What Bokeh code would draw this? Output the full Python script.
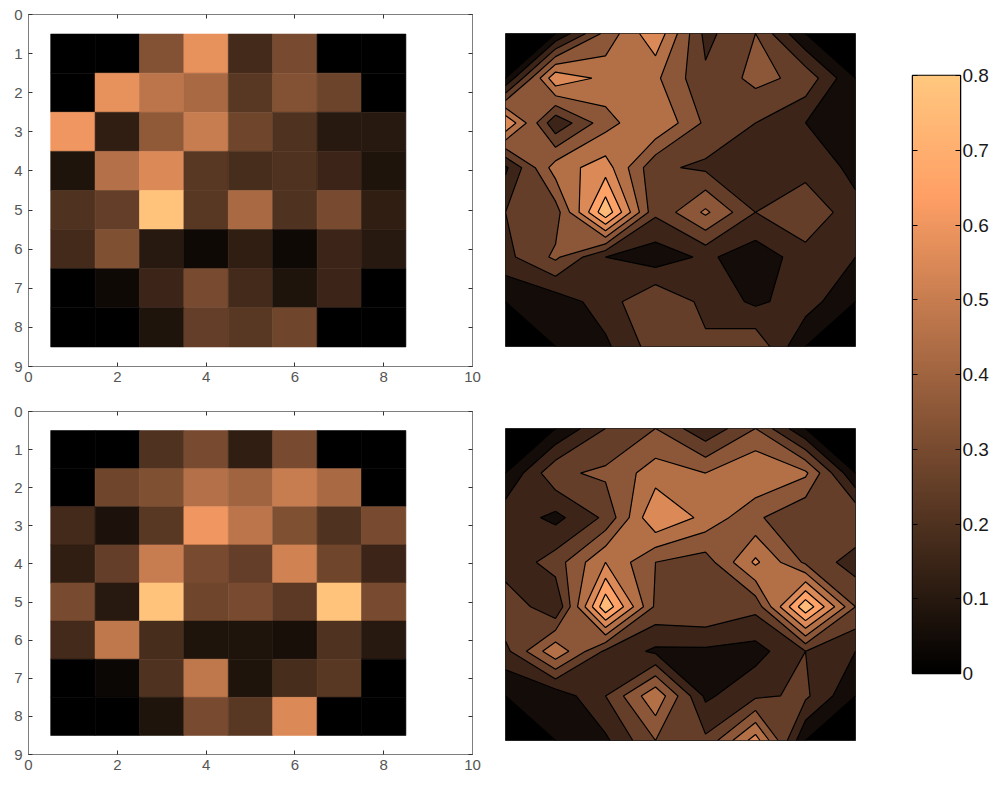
import numpy as np
from bokeh.plotting import figure
from bokeh.layouts import row, column
from bokeh.models import Range1d, LinearColorMapper, LinearAxis, FixedTicker, ColumnDataSource
from bokeh.transform import transform
from bokeh.embed import file_html
from bokeh.resources import INLINE

# ---------------- data ----------------
rows = [1, 2, 3, 4, 5, 6, 7, 8]
cols = [1, 2, 3, 4, 5, 6, 7, 8]

top_values = [
    [0.00, 0.00, 0.33, 0.58, 0.17, 0.30, 0.00, 0.00],
    [0.00, 0.58, 0.47, 0.42, 0.22, 0.33, 0.27, 0.00],
    [0.60, 0.12, 0.36, 0.50, 0.28, 0.20, 0.10, 0.10],
    [0.08, 0.45, 0.55, 0.22, 0.18, 0.20, 0.15, 0.08],
    [0.20, 0.25, 0.78, 0.22, 0.42, 0.20, 0.30, 0.12],
    [0.17, 0.32, 0.10, 0.04, 0.12, 0.04, 0.15, 0.10],
    [0.00, 0.04, 0.15, 0.30, 0.17, 0.08, 0.15, 0.00],
    [0.00, 0.00, 0.08, 0.25, 0.22, 0.28, 0.00, 0.00],
]

bottom_values = [
    [0.00, 0.00, 0.20, 0.30, 0.12, 0.30, 0.00, 0.00],
    [0.00, 0.28, 0.32, 0.45, 0.40, 0.50, 0.42, 0.00],
    [0.17, 0.07, 0.22, 0.60, 0.47, 0.32, 0.20, 0.30],
    [0.12, 0.25, 0.50, 0.30, 0.25, 0.52, 0.28, 0.15],
    [0.30, 0.10, 0.78, 0.28, 0.30, 0.23, 0.78, 0.30],
    [0.17, 0.48, 0.18, 0.08, 0.08, 0.06, 0.20, 0.10],
    [0.00, 0.03, 0.20, 0.48, 0.08, 0.18, 0.22, 0.00],
    [0.00, 0.00, 0.08, 0.30, 0.22, 0.55, 0.00, 0.00],
]

contour_levels = [0.0, 0.1, 0.2, 0.3, 0.4, 0.5, 0.6, 0.7, 0.8]
cbar_ticks = [0.0, 0.1, 0.2, 0.3, 0.4, 0.5, 0.6, 0.7, 0.8]
x_ticks = [0, 2, 4, 6, 8, 10]
y_ticks = [0, 1, 2, 3, 4, 5, 6, 7, 8, 9]
c_low, c_high = 0.0, 0.8

# ---------------- colours (MATLAB copper) ----------------
def copper(t):
    t = max(0.0, min(1.0, t))
    r = min(1.0, 1.25 * t)
    g = 0.7812 * t
    b = 0.4975 * t
    return "#%02x%02x%02x" % (int(round(r * 255)), int(round(g * 255)), int(round(b * 255)))

palette = [copper(i / 255) for i in range(256)]
mapper = LinearColorMapper(palette=palette, low=c_low, high=c_high)

FONT = "Liberation Sans"
AXIS_GRAY = "#7f7f7f"
LABEL_GRAY = "#555555"


def heatmap(values, height, top_b, bottom_b):
    p = figure(width=492, height=height, x_range=Range1d(0, 10), y_range=Range1d(9, 0),
               output_backend="svg", toolbar_location=None,
               min_border_left=28, min_border_right=20,
               min_border_top=top_b, min_border_bottom=bottom_b)
    p.grid.visible = False
    p.outline_line_color = AXIS_GRAY
    p.xaxis.ticker = FixedTicker(ticks=x_ticks)
    p.yaxis.ticker = FixedTicker(ticks=y_ticks)
    for ax, standoff in ((p.xaxis[0], 5), (p.yaxis[0], 6)):
        ax.major_tick_in = 4
        ax.major_tick_out = 0
        ax.minor_tick_in = 0
        ax.minor_tick_out = 0
        ax.axis_line_color = AXIS_GRAY
        ax.major_tick_line_color = "#333333"
        ax.major_label_text_font = FONT
        ax.major_label_text_font_size = "15px"
        ax.major_label_text_color = LABEL_GRAY
        ax.major_label_standoff = standoff
    # inner ticks on the top and right sides (no labels)
    for loc, tick in (("above", x_ticks), ("right", y_ticks)):
        ax = LinearAxis(ticker=FixedTicker(ticks=tick), major_tick_in=4, major_tick_out=0,
                        minor_tick_in=0, minor_tick_out=0, axis_line_color=AXIS_GRAY,
                        major_tick_line_color="#333333",
                        major_label_text_color=None, major_label_standoff=0)
        p.add_layout(ax, loc)
    xs, ys, vs = [], [], []
    for i, r in enumerate(rows):
        for j, c in enumerate(cols):
            xs.append(c)
            ys.append(r)
            vs.append(values[i][j])
    src = ColumnDataSource(dict(x=xs, y=ys, v=vs))
    p.rect(x="x", y="y", width=1, height=1, source=src,
           fill_color=transform("v", mapper), line_color=transform("v", mapper), line_width=0.6)
    return p


def contour_plot(values, height, top_b, bottom_b, left_b, right_b):
    p = figure(width=380, height=height, x_range=Range1d(1, 8), y_range=Range1d(8, 1),
               output_backend="svg", toolbar_location=None,
               x_axis_location=None, y_axis_location=None,
               min_border_left=left_b, min_border_right=right_b,
               min_border_top=top_b, min_border_bottom=bottom_b)
    p.grid.visible = False
    p.background_fill_color = "black"
    p.outline_line_color = "#222222"
    fills = [copper(((contour_levels[i] + contour_levels[i + 1]) / 2 - c_low) / (c_high - c_low))
             for i in range(len(contour_levels) - 1)]
    z = np.array(values, dtype=float)
    p.contour(np.array(cols, dtype=float), np.array(rows, dtype=float), z, contour_levels,
              fill_color=fills, line_color="black", line_width=1.2)
    return p


h1 = heatmap(top_values, 402, 14, 36)
h2 = heatmap(bottom_values, 373, 9, 21)
c1 = contour_plot(top_values, 402, 33, 56, 13, 14)
c2 = contour_plot(bottom_values, 373, 26, 35, 6, 17)

cb = figure(width=122, height=775, x_range=Range1d(0, 1), y_range=Range1d(c_low, c_high),
            output_backend="svg", toolbar_location=None,
            x_axis_location=None, y_axis_location="right",
            min_border_left=40, min_border_right=34, min_border_top=75, min_border_bottom=102)
cb.grid.visible = False
cb.outline_line_color = "black"
cb.outline_line_width = 1.5
grad = np.linspace(c_low, c_high, 256).reshape(256, 1)
cb.image(image=[grad], x=0, y=c_low, dw=1, dh=c_high - c_low, color_mapper=mapper)
ya = cb.yaxis[0]
ya.ticker = FixedTicker(ticks=cbar_ticks)
ya.major_tick_in = 5
ya.major_tick_out = 0
ya.minor_tick_in = 0
ya.minor_tick_out = 0
ya.axis_line_color = "black"
ya.major_tick_line_color = "black"
ya.major_label_text_font = FONT
ya.major_label_text_font_size = "19px"
ya.major_label_text_color = "#1a1a1a"
ya.major_label_standoff = 2
ya.major_label_overrides = {0.0: "0"}
left_ax = LinearAxis(ticker=FixedTicker(ticks=cbar_ticks), major_tick_in=5, major_tick_out=0,
                     minor_tick_in=0, minor_tick_out=0, axis_line_color="black",
                     major_tick_line_color="black",
                     major_label_text_color=None, major_label_standoff=0)
cb.add_layout(left_ax, "left")

layout = row(column(h1, h2), column(c1, c2), cb)

open("out.html", "w").write(file_html(layout, INLINE))
